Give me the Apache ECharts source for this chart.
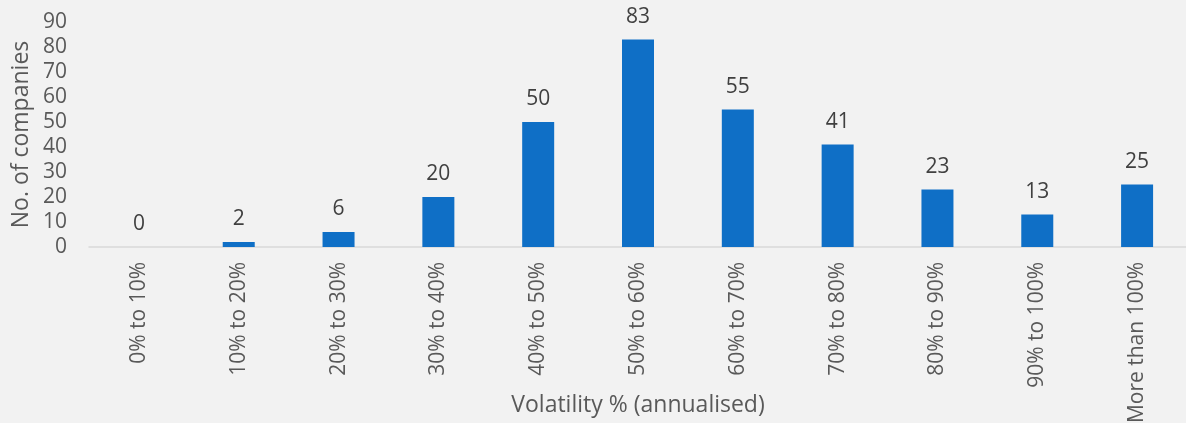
<!DOCTYPE html>
<html>
<head>
<meta charset="utf-8">
<script src="https://cdn.jsdelivr.net/npm/echarts@6/dist/echarts.min.js"></script>
<style>
html,body{margin:0;padding:0;background:#F2F2F2;}
#c{width:1186px;height:423px;}
</style>
</head>
<body>
<div id="c"></div>
<script>
const categories = ["0% to 10%","10% to 20%","20% to 30%","30% to 40%","40% to 50%","50% to 60%","60% to 70%","70% to 80%","80% to 90%","90% to 100%","More than 100%"];
const companies = [0,2,6,20,50,83,55,41,23,13,25];
const yTitle = "No. of companies";
const xTitle = "Volatility % (annualised)";

const chart = echarts.init(document.getElementById('c'), null, {renderer:'canvas'});
const font = "'Open Sans', sans-serif";
chart.setOption({
  backgroundColor:'#F2F2F2',
  animation:false,
  grid:{left:89, right:-1, top:22, bottom:176, containLabel:false, outerBoundsMode:'none'},
  xAxis:{
    type:'category',
    data:categories,
    axisLine:{lineStyle:{color:'#D9D9D9', width:1.5}},
    axisTick:{show:false},
    axisLabel:{rotate:90, color:'#595959', fontSize:21, fontFamily:font, margin:15, interval:0, hideOverlap:false},
    name:xTitle,
    nameLocation:'middle',
    nameGap:147,
    nameMoveOverlap:false,
    nameTextStyle:{color:'#595959', fontSize:23, fontFamily:font}
  },
  yAxis:{
    type:'value',
    min:0, max:90, interval:10,
    splitLine:{show:false},
    axisLine:{show:false},
    axisTick:{show:false},
    axisLabel:{color:'#595959', fontSize:21, fontFamily:font, margin:22},
    name:yTitle,
    nameLocation:'middle',
    nameGap:56,
    nameMoveOverlap:false,
    nameTextStyle:{color:'#595959', fontSize:23, fontFamily:font}
  },
  series:[{
    type:'bar',
    data:companies,
    barWidth:32,
    itemStyle:{color:'#0F6FC6'},
    label:{show:true, position:'top', distance:12, color:'#404040', fontSize:21, fontFamily:font}
  }]
});
</script>
</body>
</html>
